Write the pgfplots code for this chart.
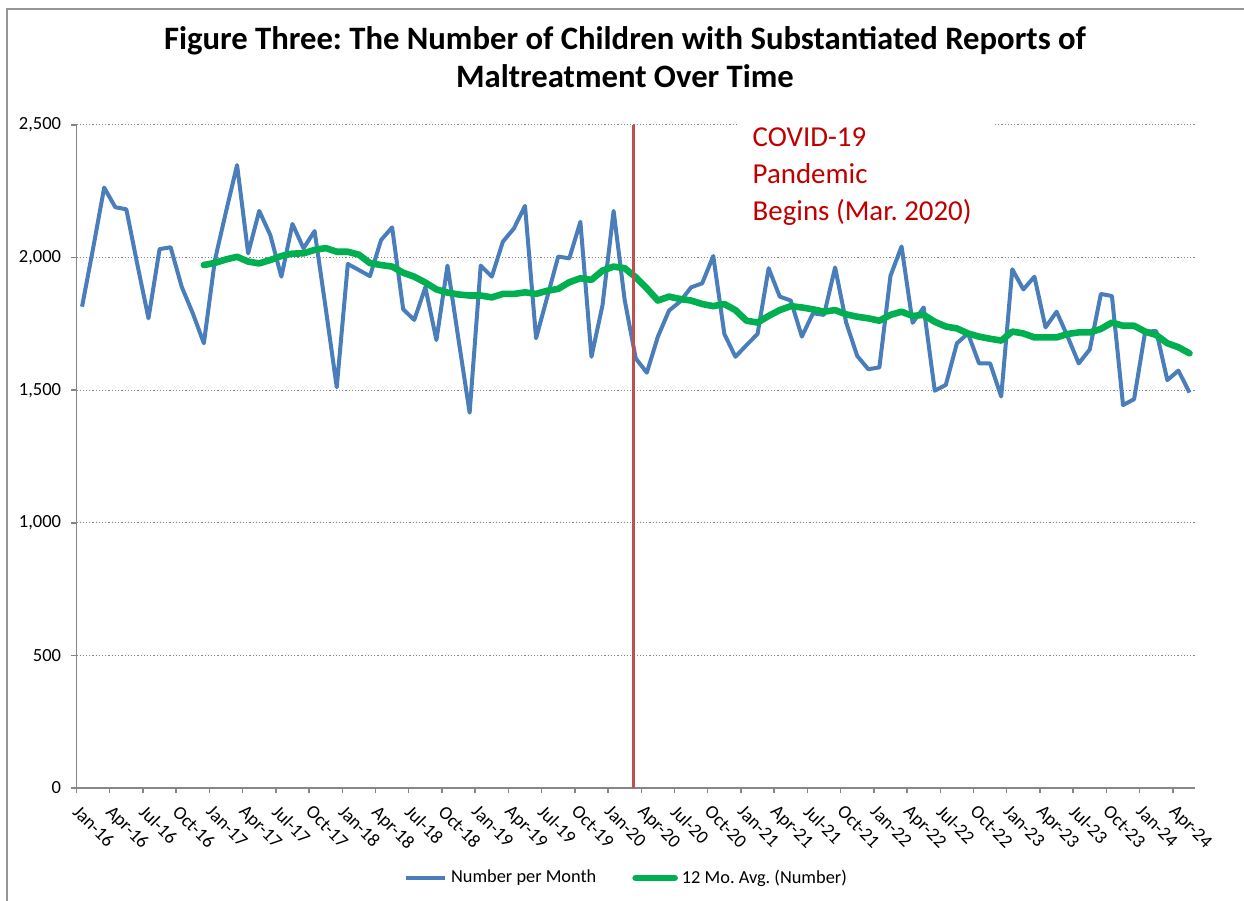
\documentclass[border=0pt]{standalone}
\usepackage{fontspec}
\setmainfont{Carlito}
\usepackage{pgfplots}
\usepackage{pgfplotstable}
\pgfplotsset{compat=1.18}
\definecolor{blueline}{RGB}{74,126,187}
\definecolor{greenline}{RGB}{0,176,80}
\definecolor{redline}{RGB}{192,80,77}
\definecolor{annot}{RGB}{192,0,0}
\definecolor{axgray}{RGB}{134,134,134}
\definecolor{bordergray}{RGB}{150,150,150}

\pgfplotstableread{
i v
0 1815
1 2035
2 2264
3 2190
4 2182
5 1973
6 1771
7 2032
8 2039
9 1890
10 1790
11 1677
12 1991
13 2173
14 2349
15 2016
16 2176
17 2085
18 1928
19 2127
20 2035
21 2100
22 1810
23 1511
24 1976
25 1953
26 1930
27 2066
28 2114
29 1805
30 1765
31 1888
32 1689
33 1970
34 1690
35 1415
36 1970
37 1928
38 2060
39 2110
40 2195
41 1696
42 1850
43 2004
44 1997
45 2135
46 1626
47 1821
48 2176
49 1840
50 1620
51 1566
52 1702
53 1800
54 1834
55 1888
56 1903
57 2006
58 1712
59 1626
60 1670
61 1712
62 1960
63 1853
64 1838
65 1702
66 1790
67 1784
68 1963
69 1755
70 1629
71 1579
72 1586
73 1931
74 2042
75 1754
76 1812
77 1498
78 1520
79 1677
80 1714
81 1601
82 1601
83 1476
84 1956
85 1880
86 1928
87 1737
88 1796
89 1702
90 1601
91 1654
92 1863
93 1855
94 1444
95 1466
96 1721
97 1723
98 1538
99 1574
100 1491
}\monthly

\pgfplotstableread{
i v
11 1972
12 1980
13 1993
14 2003
15 1985
16 1978
17 1991
18 2006
19 2015
20 2016
21 2029
22 2036
23 2022
24 2022
25 2011
26 1979
27 1972
28 1966
29 1943
30 1928
31 1906
32 1880
33 1868
34 1861
35 1857
36 1857
37 1850
38 1863
39 1863
40 1869
41 1863
42 1875
43 1882
44 1907
45 1922
46 1916
47 1951
48 1966
49 1960
50 1926
51 1884
52 1838
53 1853
54 1844
55 1838
56 1825
57 1817
58 1825
59 1802
60 1762
61 1755
62 1780
63 1802
64 1817
65 1812
66 1805
67 1796
68 1802
69 1786
70 1777
71 1771
72 1762
73 1784
74 1796
75 1780
76 1784
77 1758
78 1740
79 1733
80 1714
81 1702
82 1694
83 1687
84 1721
85 1714
86 1699
87 1699
88 1699
89 1712
90 1718
91 1718
92 1731
93 1755
94 1743
95 1743
96 1721
97 1708
98 1677
99 1662
100 1639
}\avgtwelve

\begin{document}
\frenchspacing
\begin{tikzpicture}
\useasboundingbox (0,0) rectangle (622bp,450.5bp);
\draw[bordergray, line width=1bp] (3.65bp,-2bp) -- (3.65bp,445.85bp) -- (625bp,445.85bp);

\node[anchor=base, font=\fontsize{16.4}{19}\selectfont\bfseries] at (312.5bp,425.5bp)
  {Figure Three: The Number of Children with Substantiated Reports of};
\node[anchor=base, font=\fontsize{16.4}{19}\selectfont\bfseries] at (312.5bp,406.5bp)
  {Maltreatment Over Time};

\begin{axis}[
  at={(38.25bp,56.5bp)}, anchor=south west,
  scale only axis, width=559.25bp, height=331.5bp,
  xmin=-0.5, xmax=100.5, ymin=0, ymax=2500,
  axis lines*=left,
  axis line style={-, draw=axgray, line width=0.75bp},
  tick style={axgray, line width=0.75bp},
  tick align=outside, major tick length=2.5bp,
  xtick={-0.5,2.5,...,98.5},
  xticklabels={Jan-16,Apr-16,Jul-16,Oct-16,Jan-17,Apr-17,Jul-17,Oct-17,Jan-18,Apr-18,Jul-18,Oct-18,Jan-19,Apr-19,Jul-19,Oct-19,Jan-20,Apr-20,Jul-20,Oct-20,Jan-21,Apr-21,Jul-21,Oct-21,Jan-22,Apr-22,Jul-22,Oct-22,Jan-23,Apr-23,Jul-23,Oct-23,Jan-24,Apr-24},
  ytick={0,500,1000,1500,2000,2500},
  yticklabels={0,500,{1,000},{1,500},{2,000},{2,500}},
  /pgf/number format/assume math mode=true,
  xticklabel style={xshift=2.2bp, yshift=-5.4bp, rotate=-45, anchor=north west, inner sep=0pt, font=\fontsize{9.4}{11}\selectfont},
  yticklabel style={anchor=east, inner sep=0pt, xshift=-5bp, font=\fontsize{9.3}{11}\selectfont},
  ymajorgrids,
  grid style={axgray, line width=0.5bp, dash pattern=on 0.6bp off 1bp},
  legend columns=2,
  legend style={at={(0.4926,-0.1357)}, anchor=center, draw=none, fill=none,
    font=\fontsize{9.2}{11}\selectfont, inner sep=0pt,
    /tikz/every even column/.append style={column sep=16bp}},
  legend image code/.code={\draw[#1] (0bp,0bp) -- (19.5bp,0bp);},
]
\addplot[blueline, line width=2bp, line join=round] table[x=i, y=v] {\monthly};
\addlegendentry{Number per Month}
\addplot[greenline, line width=3.3bp, line join=round, line cap=round] table[x=i, y=v] {\avgtwelve};
\addlegendentry{12 Mo. Avg. (Number)}
\addplot[redline, line width=1.5bp, forget plot] coordinates {(49.8,0) (49.8,2500)};
\end{axis}

\fill[white] (369bp,384bp) rectangle (496.5bp,392bp);
\node[anchor=base west, text=annot, inner sep=0pt, font=\fontsize{14.5}{17}\selectfont] at (376.15bp,377.15bp) {COVID-19};
\node[anchor=base west, text=annot, inner sep=0pt, font=\fontsize{14.5}{17}\selectfont] at (376.15bp,358.65bp) {Pandemic};
\node[anchor=base west, text=annot, inner sep=0pt, font=\fontsize{14.5}{17}\selectfont] at (376.15bp,340.15bp) {Begins (Mar. 2020)};
\end{tikzpicture}
\end{document}
